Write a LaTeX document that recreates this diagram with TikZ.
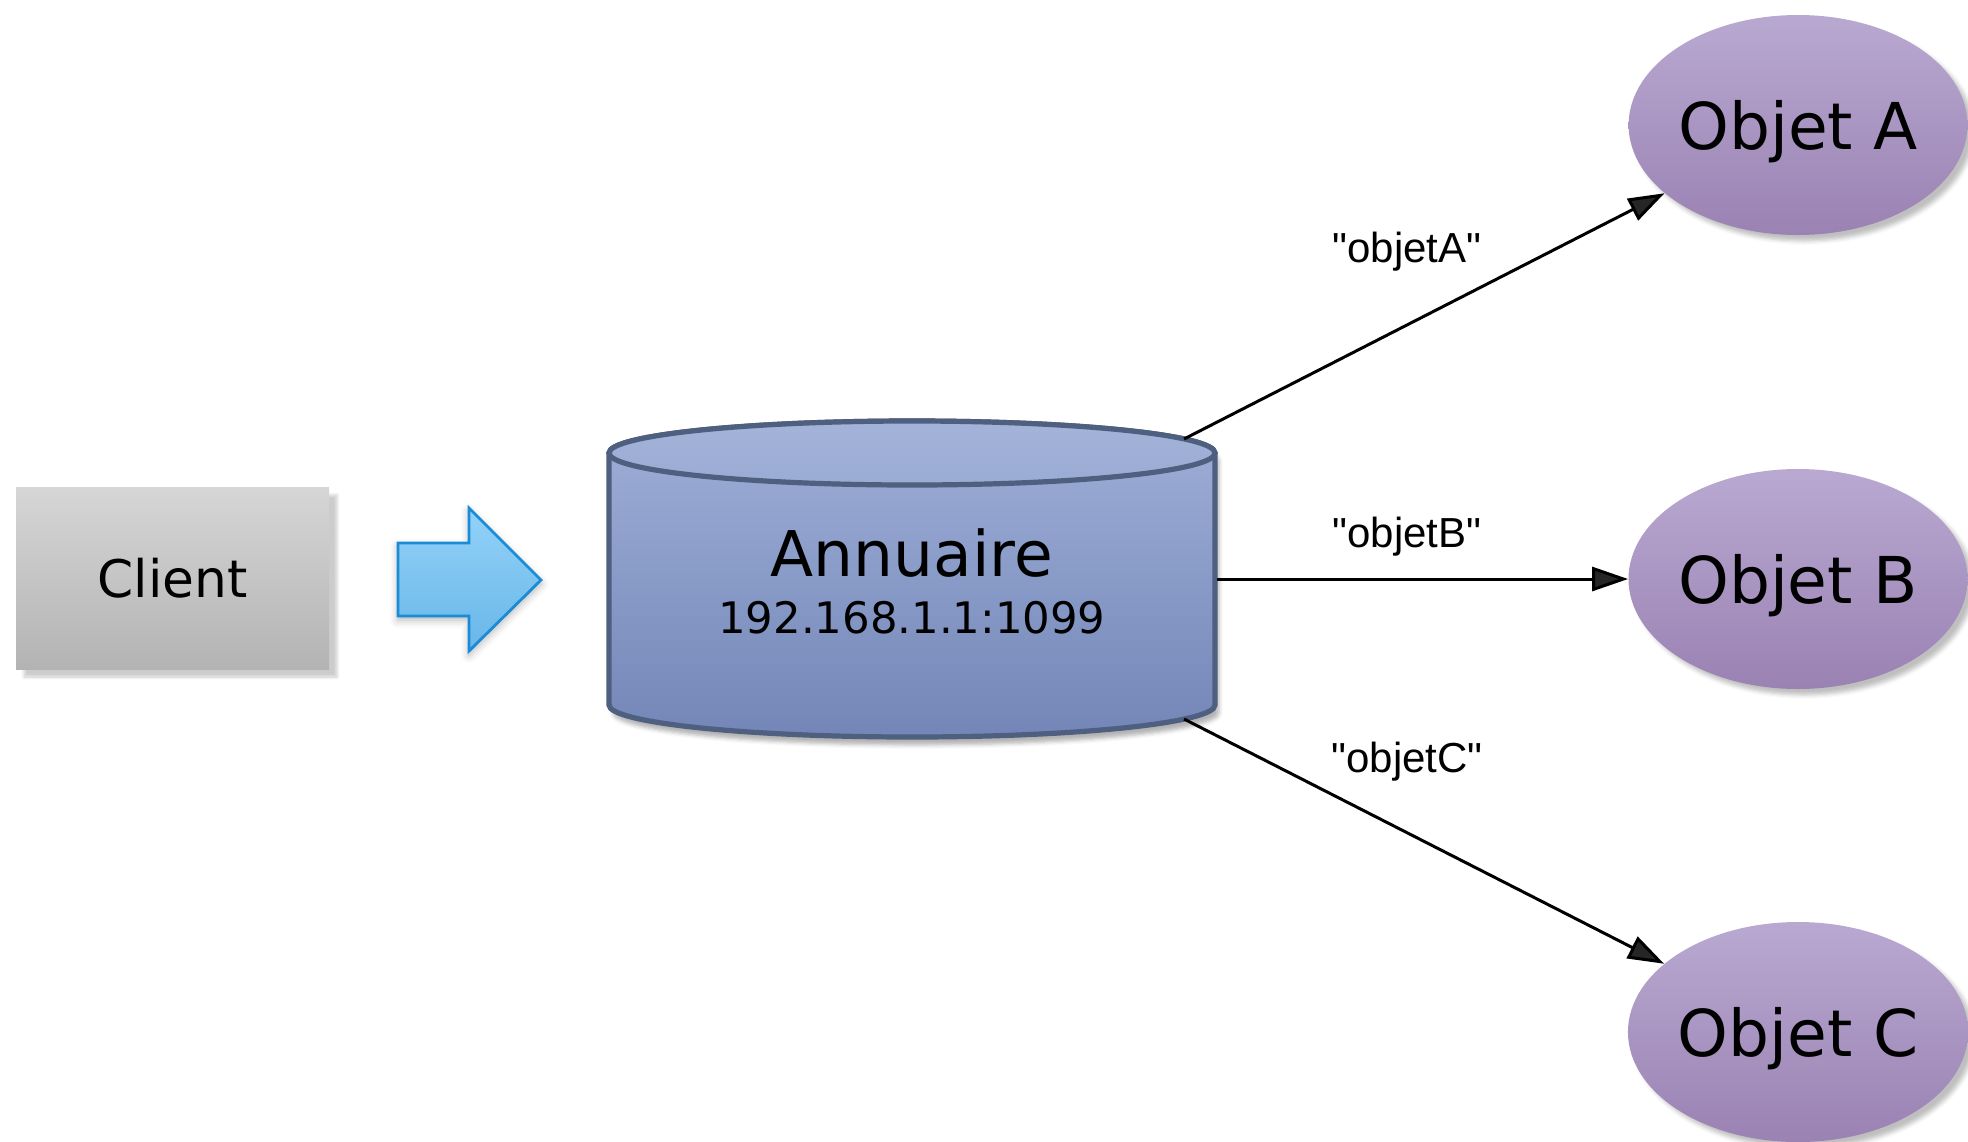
\documentclass[tikz,border=0pt]{standalone}
\usepackage{fontspec}
\setmainfont{DejaVu Sans}
\newfontfamily\lblfont{Liberation Sans}
\usetikzlibrary{arrows.meta,shapes.geometric,shadows,shadows.blur}
\definecolor{cliTop}{HTML}{D6D6D6}
\definecolor{cliBot}{HTML}{B3B3B3}
\definecolor{arrTop}{HTML}{93D2F9}
\definecolor{arrBot}{HTML}{68B6E8}
\definecolor{arrLine}{HTML}{1A8CD6}
\definecolor{cylTop}{HTML}{9EAFD7}
\definecolor{cylBot}{HTML}{7386B7}
\definecolor{cylLine}{HTML}{4F5F80}
\definecolor{objTop}{HTML}{B9A9D1}
\definecolor{objBot}{HTML}{9A82B3}
\begin{document}
\begin{tikzpicture}[x=0.5pt,y=-0.5pt,
  clientbox/.style={rectangle, minimum width=156.5pt, minimum height=91pt, inner sep=0pt,
    top color=cliTop, bottom color=cliBot, draw=none,
    blur shadow={shadow xshift=4pt, shadow yshift=-4pt, shadow blur radius=1.5pt, shadow opacity=20},
    font=\fontsize{25.9}{30}\selectfont},
  objnode/.style={ellipse, minimum width=168pt, minimum height=110pt, inner sep=0pt,
    top color=objTop, bottom color=objBot, draw=none, text depth=0pt,
    blur shadow={shadow xshift=3pt, shadow yshift=-3pt, shadow blur radius=2pt, shadow opacity=25},
    font=\fontsize{32.3}{38}\selectfont},
  edgelbl/.style={font=\lblfont\fontsize{21}{25}\selectfont, inner sep=0pt},
  link/.style={line width=1.5pt, -{Triangle[length=18pt,width=12pt]}}
]
\useasboundingbox (0,0) rectangle (1968,1141);
\clip (0,0) rectangle (1968,1141);

% client
\node[clientbox] (client) at (172.5,578) {Client};

% blue arrow
\path[blur shadow={shadow xshift=0pt, shadow yshift=-2pt, shadow blur radius=4pt, shadow opacity=30},
  top color=arrTop, bottom color=arrBot, draw=arrLine, line width=1.4pt, line join=miter]
  (398,543) -- (469,543) -- (469,508) -- (541,580) -- (469,651) -- (469,616) -- (398,616) -- cycle;

% cylinder
\path[blur shadow={shadow xshift=2pt, shadow yshift=-4pt, shadow blur radius=2pt, shadow opacity=30},
  top color=cylTop, bottom color=cylBot, draw=cylLine, line width=2.6pt]
  (609,453) -- (609,705) arc[start angle=180, end angle=360, x radius=151.5pt, y radius=16pt]
  -- (1215,453) arc[start angle=0, end angle=180, x radius=151.5pt, y radius=16pt] -- cycle;
\path[top color=cylTop!95!white, bottom color=cylTop!92!cylBot, draw=cylLine, line width=2.6pt]
  (912,453) ellipse[x radius=151.5pt, y radius=16pt];
\node[anchor=base, inner sep=0pt, font=\fontsize{31.5}{36}\selectfont] (annT) at (912,576) {Annuaire};
\node[anchor=base, inner sep=0pt, font=\fontsize{21.7}{26}\selectfont] (annIP) at (912,633) {192.168.1.1:1099};
\coordinate (cA) at (1184,439);
\coordinate (cB) at (1217,579);
\coordinate (cC) at (1184,719);

% objects
\node[objnode] (objA) at (1798,125) {Objet A};
\node[objnode] (objB) at (1798,579) {Objet B};
\node[objnode] (objC) at (1798,1032) {Objet C};

% connectors
\draw[link] (cA) -- (objA);
\draw[link] (cB) -- (objB);
\draw[link] (cC) -- (objC);

% labels
\node[edgelbl] (lblA) at (1407,252) {"objetA"};
\node[edgelbl] (lblB) at (1407,537) {"objetB"};
\node[edgelbl] (lblC) at (1407,762) {"objetC"};
\end{tikzpicture}
\end{document}
